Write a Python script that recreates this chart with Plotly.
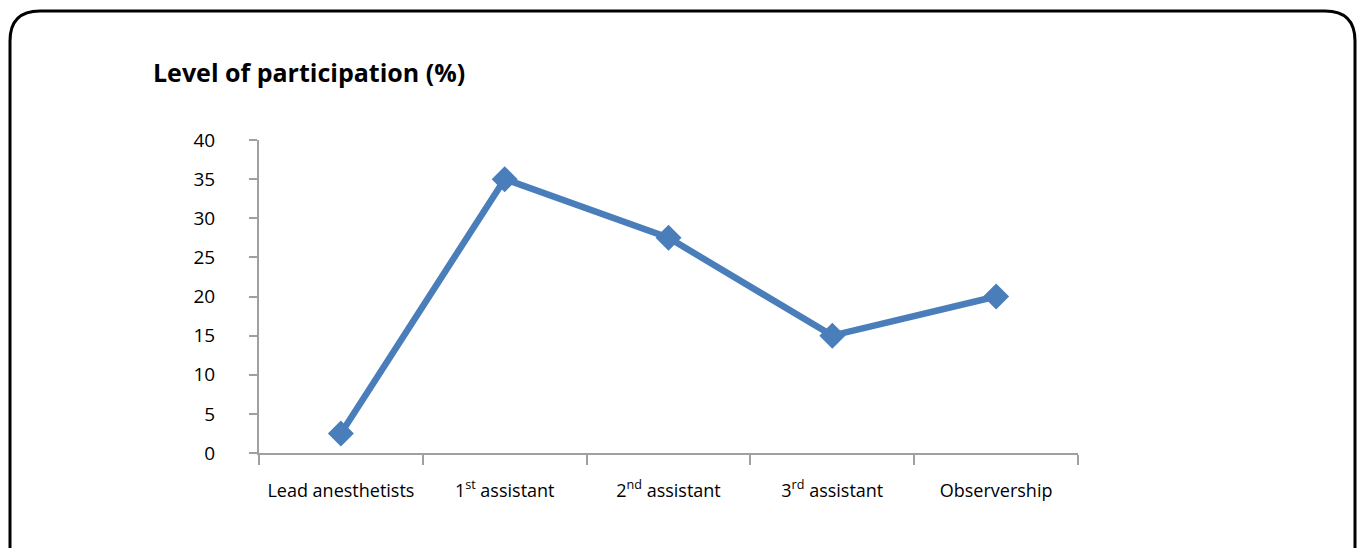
import plotly.graph_objects as go

categories = ["Lead anesthetists", "1<sup>st</sup> assistant", "2<sup>nd</sup> assistant",
              "3<sup>rd</sup> assistant", "Observership"]
values = [2.5, 35, 27.5, 15, 20]
y_ticks = [0, 5, 10, 15, 20, 25, 30, 35, 40]

W, H = 1362, 548
L, R, T, B = 259, 1078, 140, 453
pw, ph = R - L, B - T

def px(x):
    return (x - L) / pw

def py(y):
    return (B - y) / ph

# rounded border in pixel coords
x0, x1, y0, y1, r = 10, 1355, 11, 580, 30
path = (f"M {px(x0)} {py(y1)} L {px(x0)} {py(y0 + r)} "
        f"Q {px(x0)} {py(y0)} {px(x0 + r)} {py(y0)} "
        f"L {px(x1 - r)} {py(y0)} "
        f"Q {px(x1)} {py(y0)} {px(x1)} {py(y0 + r)} "
        f"L {px(x1)} {py(y1)}")

fig = go.Figure()
fig.add_trace(go.Scatter(
    x=categories, y=values, mode="lines+markers",
    line=dict(color="#4A7EBB", width=6.5),
    marker=dict(symbol="diamond", size=20, color="#4A7EBB"),
    showlegend=False, cliponaxis=False,
))

fig.update_layout(
    width=W, height=H,
    margin=dict(l=L, r=W - R, t=T, b=H - B, pad=0),
    paper_bgcolor="white", plot_bgcolor="white",
    font=dict(family="Open Sans", color="#000000"),
    shapes=[dict(type="path", xref="paper", yref="paper", path=path,
                 line=dict(color="#000000", width=3))],
    annotations=[dict(text="<b>Level of participation (%)</b>", xref="paper", yref="paper",
                      x=px(151), y=py(72), xanchor="left", yanchor="middle",
                      showarrow=False, font=dict(size=25, family="Open Sans", color="#000"))],
)
fig.update_xaxes(
    type="category", range=[-0.5, len(categories) - 0.5],
    showline=True, linecolor="#A0A0A0", linewidth=2,
    ticks="outside", tickson="boundaries", ticklen=10, tickcolor="#A0A0A0", tickwidth=2,
    showgrid=False, zeroline=False, tickfont=dict(size=18), ticklabelstandoff=20,
)
fig.update_yaxes(
    range=[0, 40], tickvals=y_ticks, showline=True, linecolor="#A0A0A0", linewidth=2,
    ticks="outside", ticklen=8, tickcolor="#A0A0A0", tickwidth=2,
    showgrid=False, zeroline=False, tickfont=dict(size=19), ticklabelstandoff=30,
)
fig.write_html("out.html", config={"displayModeBar": False},
               post_script="document.body.style.margin='0';document.body.style.overflow='hidden';")
